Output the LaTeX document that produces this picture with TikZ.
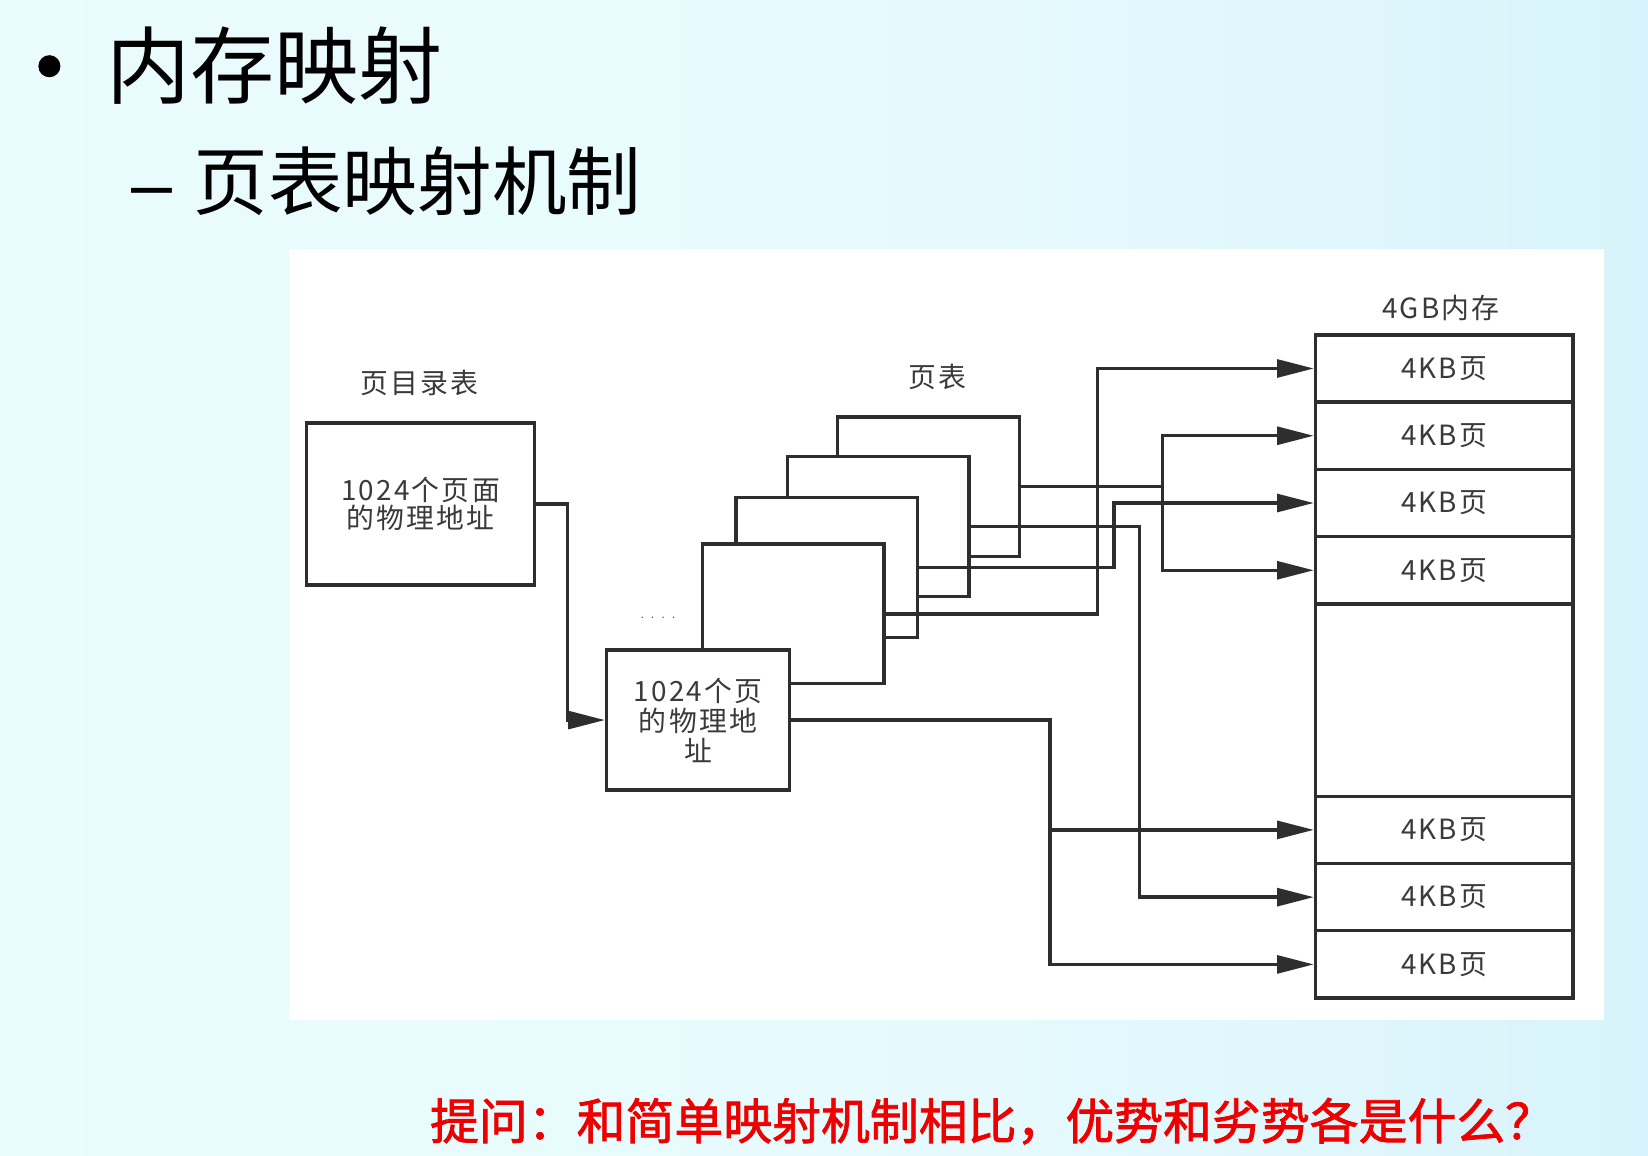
\documentclass[tikz,border=0pt]{standalone}
\usepackage{fontspec}
\newfontfamily\cjk{Noto Sans CJK SC}
\newfontfamily\cjkwide{Noto Sans CJK SC}[LetterSpace=8]
\newfontfamily\cjkask{Noto Sans CJK SC}[FakeBold=1.6]
\newfontfamily\dashfont{Liberation Sans}
\usetikzlibrary{arrows.meta}

\definecolor{bgA}{HTML}{EFFDFE}
\definecolor{bgB}{HTML}{E6FAFD}
\definecolor{bgC}{HTML}{D8F3FB}
\definecolor{bgD}{HTML}{C2E6F6}
\definecolor{bgE}{HTML}{ABD8F1}
\definecolor{lnc}{HTML}{2E2E2E}
\definecolor{txc}{HTML}{3A3A3A}
\definecolor{askred}{HTML}{EE0000}

% slide backdrop: pale cyan turning light blue towards the right
\pgfdeclarehorizontalshading{slidebg}{100bp}{color(0bp)=(bgA); color(55bp)=(bgB); color(75bp)=(bgC); color(92bp)=(bgD); color(100bp)=(bgE)}

\begin{document}
\begin{tikzpicture}[x=1pt,y=-1pt,
  ln/.style={draw=lnc, line width=3.2pt, line join=miter},
  tbox/.style={ln, fill=white, anchor=north west, inner sep=0pt, text=txc,
    font=\cjkwide\fontsize{26.5}{28}\selectfont, align=center},
  mcell/.style={tbox, minimum width=245pt, minimum height=64pt},
  ptab/.style={tbox, minimum width=173pt, minimum height=133pt},
  arr/.style={ln, -{Triangle[length=35pt,width=17pt]}},
  lbl/.style={text=txc, font=\cjkwide\fontsize{26.5}{28}\selectfont, inner sep=0pt}]

\useasboundingbox (0,0) rectangle (1568,1099);

% background
\shade[shading=slidebg] (0,0) rectangle (1568,1099);
\fill[white] (275,237) rectangle (1526,970);

% headings
\fill[black] (47,63) circle (10.5);
\node[anchor=base west, inner sep=0pt, font=\cjk\fontsize{80}{90}\selectfont] (title) at (101,92.5) {内存映射};
\node[anchor=base west, inner sep=0pt, font=\dashfont\fontsize{70}{80}\selectfont] (dash) at (125,199) {–};
\node[anchor=base west, inner sep=0pt, font=\cjk\fontsize{71}{80}\selectfont] (subtitle) at (184,199) {页表映射机制};

% page directory
\node[lbl] (lpd) at (399,364) {页目录表};
\node[tbox, minimum width=217pt, minimum height=154pt, font=\cjkwide\fontsize{26.5}{27}\selectfont] (pd) at (290,401) {1024个页面\\的物理地址};

% stack of page tables, back to front
\node[lbl] (lpt) at (892,359) {页表};
\node[ptab] (b4) at (795.5,395) {};
\node[ptab] (b3) at (747.5,433) {};
\node[ptab] (b2) at (698.5,472) {};
\node[ptab] (b1) at (666.5,516) {};
\node[ptab, minimum width=174pt, font=\cjkwide\fontsize{26.5}{28.5}\selectfont] (pt0) at (575.5,617) {1024个页\\的物理地\\址};
\node[text=txc, font=\fontsize{14}{14}\selectfont, inner sep=0pt, anchor=base] (dots) at (626,588) {. . . .};

% physical memory
\node[lbl] (lmem) at (1371,293) {4GB内存};
\node[mcell] (m1) at (1250,317) {4KB页};
\node[mcell] (m2) at (1250,381) {4KB页};
\node[mcell] (m3) at (1250,445) {4KB页};
\node[mcell] (m4) at (1250,509) {4KB页};
\node[tbox, minimum width=245pt, minimum height=183pt] (mgap) at (1250,573) {};
\node[mcell] (m5) at (1250,756) {4KB页};
\node[mcell] (m6) at (1250,820) {4KB页};
\node[mcell] (m7) at (1250,884) {4KB页};

% vertical runs of the connectors
\coordinate (xd) at (540,0);
\coordinate (x0) at (999,0);
\coordinate (x1) at (1044,0);
\coordinate (x2) at (1060,0);
\coordinate (x3) at (1084,0);
\coordinate (x4) at (1106,0);

% directory entry to page table
\draw[arr] (pd.east) -| (xd |- pt0.west) -- (pt0.west);

% page table entries to frames
\draw[arr] (pt0.east) -| (x0 |- m7.west) -- (m7.west);
\draw[arr] (x0 |- m5.west) -- (m5.west);
\draw[arr] (b1.east) -| (x1 |- m1.west) -- (m1.west);
\draw[arr] (b2.east) -| (x2 |- m3.west) -- (m3.west);
\draw[arr] (b3.east) -| (x3 |- m6.west) -- (m6.west);
\draw[ln] (b4.east) -- (x4 |- b4.east);
\draw[arr] (x4 |- b4.east) |- (m2.west);
\draw[arr] (x4 |- b4.east) |- (m4.west);

% question
\node[anchor=base west, inner sep=0pt, text=askred, font=\cjkask\fontsize{46.5}{52}\selectfont] (ask) at (409,1084) {提问：和简单映射机制相比，优势和劣势各是什么？};
\end{tikzpicture}
\end{document}
